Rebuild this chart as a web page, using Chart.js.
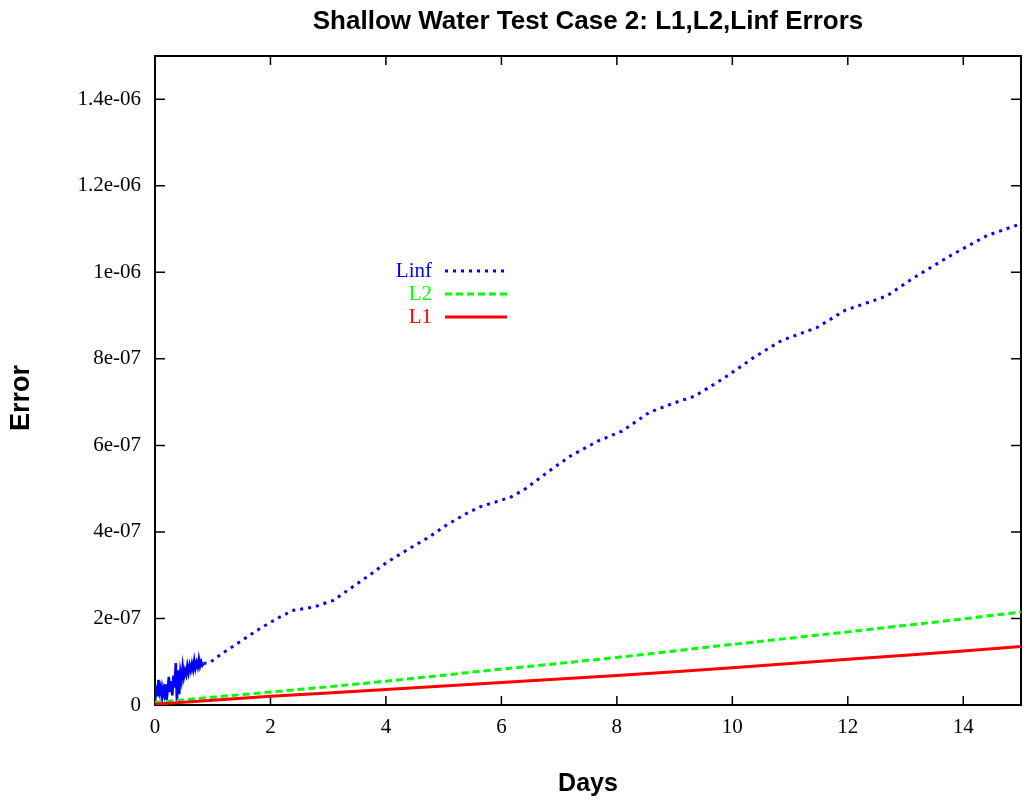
<!DOCTYPE html>
<html>
<head>
<meta charset="utf-8">
<script src="https://cdn.jsdelivr.net/npm/chart.js@4.4.0/dist/chart.umd.min.js"></script>
<style>html,body{margin:0;padding:0;background:#fff}canvas{display:block}</style>
</head>
<body>
<canvas id="c" width="1030" height="803"></canvas>
<script>
// Linf error: noisy start (first ~0.84 days), then a smooth climb
const linfDays = [0,0.02,0.04,0.06,0.08,0.10,0.12,0.14,0.16,0.18,0.20,0.22,0.24,0.26,0.28,0.30,0.32,0.34,0.36,0.38,0.40,
  0.42,0.44,0.46,0.48,0.50,0.52,0.54,0.56,0.58,0.60,0.62,0.64,0.66,0.68,0.70,0.72,0.74,0.76,0.78,0.80,0.82,0.84,
  0.95,1.15,1.47,1.82,2.17,2.40,2.74,3.09,3.38,3.67,4.01,4.36,4.71,5.05,5.40,5.63,5.92,6.17,6.41,6.83,7.19,7.67,
  8.09,8.57,8.99,9.35,9.84,10.38,10.86,11.46,11.95,12.67,13.15,13.81,14.41,14.95,15.0];
const linfErr = [0.5e-8,4.5e-8,2.0e-8,5.8e-8,3.0e-8,4.2e-8,1.5e-8,3.8e-8,2.5e-8,4.8e-8,1.2e-8,3.5e-8,6.5e-8,3.0e-8,5.5e-8,2.2e-8,
  6.8e-8,4.0e-8,9.7e-8,1.0e-8,8.0e-8,2.5e-8,7.5e-8,5.8e-8,8.8e-8,6.5e-8,8.0e-8,7.0e-8,9.0e-8,7.5e-8,9.2e-8,8.0e-8,9.5e-8,
  8.2e-8,1.02e-7,8.5e-8,9.8e-8,8.8e-8,1.06e-7,9.0e-8,1.0e-7,9.2e-8,9.6e-8,
  9.8e-8,1.18e-7,1.46e-7,1.77e-7,2.04e-7,2.19e-7,2.26e-7,2.42e-7,2.69e-7,2.96e-7,3.29e-7,3.58e-7,3.85e-7,4.16e-7,4.43e-7,
  4.58e-7,4.70e-7,4.81e-7,4.99e-7,5.41e-7,5.75e-7,6.10e-7,6.33e-7,6.77e-7,6.98e-7,7.14e-7,7.54e-7,8.04e-7,8.43e-7,8.72e-7,
  9.12e-7,9.45e-7,9.88e-7,1.041e-6,1.085e-6,1.110e-6,1.112e-6];
const noisyEnd = 0.84;

const normDays = [0,1,2,3,4,5,6,7,8,9,10,11,12,13,14,15];
const l2Err = [6e-9,1.8e-8,3.0e-8,4.2e-8,5.5e-8,6.9e-8,8.3e-8,9.6e-8,1.1e-7,1.25e-7,1.4e-7,1.545e-7,1.69e-7,1.84e-7,1.99e-7,2.15e-7];
const l1Err = [2e-9,1.1e-8,2.0e-8,2.8e-8,3.6e-8,4.4e-8,5.2e-8,6.0e-8,6.8e-8,7.7e-8,8.6e-8,9.6e-8,1.055e-7,1.15e-7,1.25e-7,1.35e-7];

const xTicks = [0,2,4,6,8,10,12,14];
const yTicks = [0,2e-7,4e-7,6e-7,8e-7,1e-6,1.2e-6,1.4e-6];
const yTickLabels = ['0','2e-07','4e-07','6e-07','8e-07','1e-06','1.2e-06','1.4e-06'];

const pts = (xs,ys)=>xs.map((x,i)=>({x:x,y:ys[i]}));
const SERIF = 'Liberation Serif', SANS = 'Liberation Sans';

// frame with inward ticks on all four sides, titles, and an in-plot key
const frame = {
  id:'frame',
  beforeDatasetsDraw(chart){
    const {ctx, chartArea:a, scales:{x,y}} = chart;
    ctx.save();
    ctx.strokeStyle='#000'; ctx.lineWidth=1.5;
    ctx.beginPath();
    xTicks.forEach(v=>{ const px=x.getPixelForValue(v);
      ctx.moveTo(px,a.bottom); ctx.lineTo(px,a.bottom-9);
      ctx.moveTo(px,a.top); ctx.lineTo(px,a.top+9); });
    yTicks.forEach(v=>{ const py=y.getPixelForValue(v);
      ctx.moveTo(a.left,py); ctx.lineTo(a.left+10,py);
      ctx.moveTo(a.right,py); ctx.lineTo(a.right-10,py); });
    ctx.stroke();
    ctx.lineWidth=2;
    ctx.strokeRect(a.left,a.top,a.width,a.height);
    ctx.restore();
  },
  afterDraw(chart){
    const {ctx, chartArea:a} = chart;
    ctx.save();
    ctx.fillStyle='#000';
    ctx.font='bold 26px '+SANS;
    ctx.textAlign='center'; ctx.textBaseline='middle';
    ctx.fillText('Shallow Water Test Case 2: L1,L2,Linf Errors',(a.left+a.right)/2,22);
    ctx.save();
    ctx.translate(22,398); ctx.rotate(-Math.PI/2);
    ctx.font='bold 27px '+SANS;
    ctx.fillText('Error',0,0);
    ctx.restore();
    // key
    const rows=[271,294,317];
    chart.data.datasets.forEach((ds,i)=>{
      const ky=rows[i];
      ctx.font='21px '+SERIF; ctx.textAlign='right'; ctx.fillStyle=ds.borderColor;
      ctx.fillText(ds.label,432,ky);
      ctx.strokeStyle=ds.borderColor; ctx.lineWidth=ds.borderWidth;
      ctx.setLineDash(ds.keyDash);
      ctx.beginPath(); ctx.moveTo(445,ky); ctx.lineTo(507,ky); ctx.stroke();
    });
    ctx.restore();
  }
};

new Chart(document.getElementById('c'), {
  type:'line',
  data:{ datasets:[
    { label:'Linf', data:pts(linfDays,linfErr), borderColor:'#0000ff', borderWidth:3, borderDash:[3,5], keyDash:[3,5], order:2,
      segment:{ borderDash:c=>c.p1.parsed.x<=noisyEnd?[]:[3,5], borderWidth:c=>c.p1.parsed.x<=noisyEnd?2.6:3 } },
    { label:'L2', data:pts(normDays,l2Err), borderColor:'#00ff00', borderWidth:3, borderDash:[7,4], keyDash:[7,4], order:1 },
    { label:'L1', data:pts(normDays,l1Err), borderColor:'#ff0000', borderWidth:3, keyDash:[], order:0 }
  ]},
  options:{
    responsive:false, animation:false, devicePixelRatio:1,
    layout:{ padding:{ top:56, right:9, left:0, bottom:0 } },
    elements:{ point:{ radius:0 }, line:{ tension:0, borderCapStyle:'butt' } },
    plugins:{ legend:{ display:false }, tooltip:{ enabled:false }, title:{ display:false } },
    scales:{
      x:{ type:'linear', min:0, max:15,
        grid:{ display:false, drawTicks:false }, border:{ display:false },
        afterBuildTicks:s=>{ s.ticks=xTicks.map(v=>({value:v})); },
        afterFit:s=>{ s.height=98; },
        ticks:{ color:'#000', font:{ family:SERIF, size:21 }, padding:10, maxRotation:0, autoSkip:false },
        title:{ display:true, text:'Days', color:'#000', font:{ family:SANS, weight:'bold', size:25 }, padding:{ top:0, bottom:4 } } },
      y:{ type:'linear', min:0, max:1.5e-6,
        grid:{ display:false, drawTicks:false }, border:{ display:false },
        afterBuildTicks:s=>{ s.ticks=yTicks.map(v=>({value:v})); },
        afterFit:s=>{ s.width=155; },
        ticks:{ color:'#000', font:{ family:SERIF, size:21 }, padding:14, autoSkip:false,
          callback:(v,i)=>yTickLabels[i] } }
    }
  },
  plugins:[frame]
});
</script>
</body>
</html>
